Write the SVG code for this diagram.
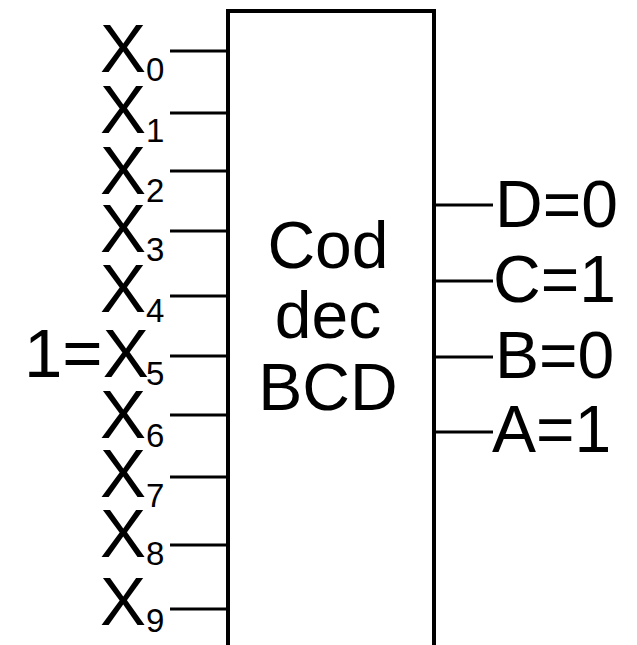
<svg xmlns="http://www.w3.org/2000/svg" width="637" height="645" viewBox="0 0 637 645">
<style>
.t{font-family:"Liberation Sans",Arial,sans-serif;fill:#000}
.big{font-size:69px}
.out{font-size:66px}
.sub{font-size:33px}
.w{stroke:#000;stroke-width:3;fill:none}
.box{stroke:#000;stroke-width:4;fill:#fff}
</style>
<rect width="637" height="645" fill="#fff"/>
<g id="connectors">
<line class="w" x1="170" y1="51" x2="228" y2="51"/>
<line class="w" x1="170" y1="113" x2="228" y2="113"/>
<line class="w" x1="170" y1="171" x2="228" y2="171"/>
<line class="w" x1="170" y1="231" x2="228" y2="231"/>
<line class="w" x1="170" y1="296" x2="228" y2="296"/>
<line class="w" x1="170" y1="356" x2="228" y2="356"/>
<line class="w" x1="170" y1="415" x2="228" y2="415"/>
<line class="w" x1="170" y1="477" x2="228" y2="477"/>
<line class="w" x1="170" y1="545" x2="228" y2="545"/>
<line class="w" x1="170" y1="609" x2="228" y2="609"/>
<line class="w" x1="434" y1="205" x2="493" y2="205"/>
<line class="w" x1="434" y1="281" x2="493" y2="281"/>
<line class="w" x1="434" y1="357" x2="493" y2="357"/>
<line class="w" x1="434" y1="432" x2="493" y2="432"/>
</g>
<g id="encoder">
<path class="box" d="M228,650 V11 H434 V650"/>
<text class="t out" x="328" y="268" text-anchor="middle">Cod</text>
<text class="t out" x="328" y="338" text-anchor="middle">dec</text>
<text class="t out" x="328" y="410" text-anchor="middle">BCD</text>
</g>
<g id="inputs">
<text class="t big" x="100" y="72">X<tspan class="sub" x="146" y="81">0</tspan></text>
<text class="t big" x="100" y="133">X<tspan class="sub" x="146" y="142">1</tspan></text>
<text class="t big" x="100" y="194">X<tspan class="sub" x="146" y="202">2</tspan></text>
<text class="t big" x="100" y="252">X<tspan class="sub" x="146" y="261">3</tspan></text>
<text class="t big" x="100" y="312">X<tspan class="sub" x="146" y="322">4</tspan></text>
<text class="t big" x="24" y="377">1=X<tspan class="sub" x="146" y="385">5</tspan></text>
<text class="t big" x="100" y="438">X<tspan class="sub" x="146" y="447">6</tspan></text>
<text class="t big" x="100" y="497">X<tspan class="sub" x="146" y="507">7</tspan></text>
<text class="t big" x="100" y="557">X<tspan class="sub" x="146" y="565">8</tspan></text>
<text class="t big" x="100" y="625">X<tspan class="sub" x="146" y="632">9</tspan></text>
</g>
<g id="outputs">
<text class="t out" x="495" y="227">D=0</text>
<text class="t out" x="493" y="302">C=1</text>
<text class="t out" x="495" y="378">B=0</text>
<text class="t out" x="492" y="452">A=1</text>
</g>
</svg>
